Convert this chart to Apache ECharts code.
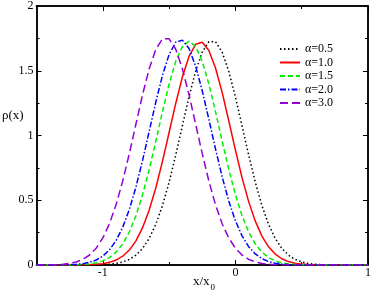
<!DOCTYPE html>
<html><head><meta charset="utf-8">
<script src="https://cdn.jsdelivr.net/npm/echarts@6/dist/echarts.min.js"></script>
<style>html,body{margin:0;padding:0;background:#fff}#c{width:374px;height:294px}</style>
</head><body><div id="c"></div>
<script>
const xs = [-1.5,-1.45,-1.4,-1.35,-1.3,-1.25,-1.2,-1.15,-1.1,-1.05,-1.0,-0.95,-0.9,-0.85,-0.8,-0.75,-0.7,-0.65,-0.6,-0.55,-0.5,-0.45,-0.4,-0.35,-0.3,-0.25,-0.2,-0.15,-0.1,-0.05,0,0.05,0.1,0.15,0.2,0.25,0.3,0.35,0.4,0.45,0.5,0.55,0.6,0.65,0.7,0.75,0.8,0.85,0.9,0.95,1.0];
const seriesNames = ['α=0.5','α=1.0','α=1.5','α=2.0','α=3.0'];
const rhoAlpha05 = [0,0,0,0,0,0,0,0.0002,0.0005,0.0012,0.0028,0.0059,0.0121,0.0234,0.0432,0.0762,0.1282,0.2057,0.3146,0.459,0.639,0.8486,1.0747,1.2982,1.4959,1.6442,1.7238,1.7238,1.6442,1.4959,1.2982,1.0747,0.8486,0.639,0.459,0.3146,0.2057,0.1282,0.0762,0.0432,0.0234,0.0121,0.0059,0.0028,0.0012,0.0005,0.0002,0,0,0,0];
const rhoAlpha10 = [0,0,0,0,0.0001,0.0002,0.0004,0.0011,0.0024,0.0051,0.0104,0.0204,0.0381,0.0679,0.1153,0.1867,0.2883,0.4248,0.5968,0.8001,1.023,1.2475,1.4513,1.6102,1.7042,1.7204,1.6566,1.5214,1.3328,1.1137,0.8877,0.6749,0.4894,0.3386,0.2233,0.1405,0.0843,0.0483,0.0264,0.0137,0.0068,0.0032,0.0015,0.0006,0.0003,0.0001,0,0,0,0,0];
const rhoAlpha15 = [0,0,0,0.0001,0.0003,0.0008,0.0019,0.0041,0.0085,0.0168,0.0318,0.0575,0.099,0.1626,0.2549,0.3809,0.5429,0.738,0.9571,1.184,1.3969,1.5721,1.6876,1.728,1.6876,1.5721,1.3969,1.184,0.9571,0.738,0.5429,0.3809,0.2549,0.1626,0.099,0.0575,0.0318,0.0168,0.0085,0.0041,0.0019,0.0008,0.0003,0.0001,0,0,0,0,0,0,0];
const rhoAlpha20 = [0,0.0001,0.0002,0.0005,0.0011,0.0024,0.0051,0.0105,0.0206,0.0385,0.0686,0.1164,0.1884,0.2909,0.4287,0.6024,0.8075,1.0325,1.2591,1.4647,1.6252,1.72,1.7363,1.672,1.5356,1.3452,1.124,0.8959,0.6812,0.494,0.3417,0.2253,0.1418,0.0851,0.0487,0.0266,0.0139,0.0069,0.0033,0.0015,0.0006,0.0003,0.0001,0,0,0,0,0,0,0,0];
const rhoAlpha30 = [0.0002,0.0005,0.0013,0.0028,0.006,0.0122,0.0237,0.0438,0.0772,0.1299,0.2084,0.3187,0.4651,0.6475,0.8599,1.089,1.3155,1.5158,1.666,1.7467,1.7467,1.666,1.5158,1.3155,1.089,0.8599,0.6475,0.4651,0.3187,0.2084,0.1299,0.0772,0.0438,0.0237,0.0122,0.006,0.0028,0.0013,0.0005,0.0002,0.0001,0,0,0,0,0,0,0,0,0,0];
const xMajorTicks = [-1,0,1];
const xMinorTicks = [-0.5,0.5];
const yMajorTicks = [0,0.5,1,1.5,2];
const yMinorTicks = [0.25,0.75,1.25,1.75];

const FONT = "'Liberation Serif','DejaVu Serif',serif";
const allY = [rhoAlpha05, rhoAlpha10, rhoAlpha15, rhoAlpha20, rhoAlpha30];
const colors = ['#000000','#ff0000','#00ee00','#0000ff','#9400d3'];
const dashes = [[1.5,2.5],'solid',[5,3],[6,2,1.5,2],[8,4]];

function xAx(pos, ticks, len, labels) {
  return {type:'value', min:-1.5, max:1, position:pos,
    axisLine:{show:true, onZero:false, lineStyle:{color:'#000', width:1.5}},
    splitLine:{show:false},
    axisTick:{show:true, inside:true, length:len, customValues:ticks, lineStyle:{color:'#000', width:1}},
    axisLabel:labels ? {show:true, customValues:labels, margin:2, color:'#000', fontSize:12, fontFamily:FONT} : {show:false}
  };
}
function yAx(pos, ticks, len, labels) {
  return {type:'value', min:0, max:2, position:pos,
    axisLine:{show:true, onZero:false, lineStyle:{color:'#000', width:1.5}},
    splitLine:{show:false},
    axisTick:{show:true, inside:true, length:len, customValues:ticks, lineStyle:{color:'#000', width:1}},
    axisLabel:labels ? {show:true, customValues:labels, margin:3, color:'#000', fontSize:12, fontFamily:FONT} : {show:false}
  };
}

const chart = echarts.init(document.getElementById('c'), null, {renderer:'canvas'});
chart.setOption({
  animation:false,
  backgroundColor:'#fff',
  grid:{left:36.5, top:4.5, width:334.5, height:260.5, containLabel:false},
  xAxis:[xAx('bottom', xMajorTicks, 5, xMajorTicks), xAx('bottom', xMinorTicks, 3, null),
         xAx('top', xMajorTicks, 5, null), xAx('top', xMinorTicks, 3, null)],
  yAxis:[yAx('left', yMajorTicks, 5, yMajorTicks), yAx('left', yMinorTicks, 3, null),
         yAx('right', yMajorTicks, 5, null), yAx('right', yMinorTicks, 3, null)],
  legend:{left:274, top:38, orient:'vertical', itemWidth:20, itemHeight:10, itemGap:1.5,
    data:seriesNames,
    itemStyle:{opacity:0},
    textStyle:{fontSize:12, fontFamily:FONT, color:'#000', lineHeight:10}},
  series: allY.map((arr, k) => ({
    name: seriesNames[k], type:'line', xAxisIndex:0, yAxisIndex:0,
    data: xs.map((x, i) => [x, arr[i]]),
    showSymbol:false, symbol:'none',
    lineStyle:{color:colors[k], width:1.5, type:dashes[k]},
    itemStyle:{color:colors[k]}
  })),
  graphic:[
    {type:'text', left:2, top:109, style:{text:'ρ(x)', fontSize:13, fontFamily:FONT, fill:'#000'}},
    {type:'text', left:193, top:275, style:{text:'x/x', fontSize:13, fontFamily:FONT, fill:'#000'}},
    {type:'text', left:210.5, top:283, style:{text:'0', fontSize:9, fontFamily:FONT, fill:'#000'}}
  ]
});
</script></body></html>
